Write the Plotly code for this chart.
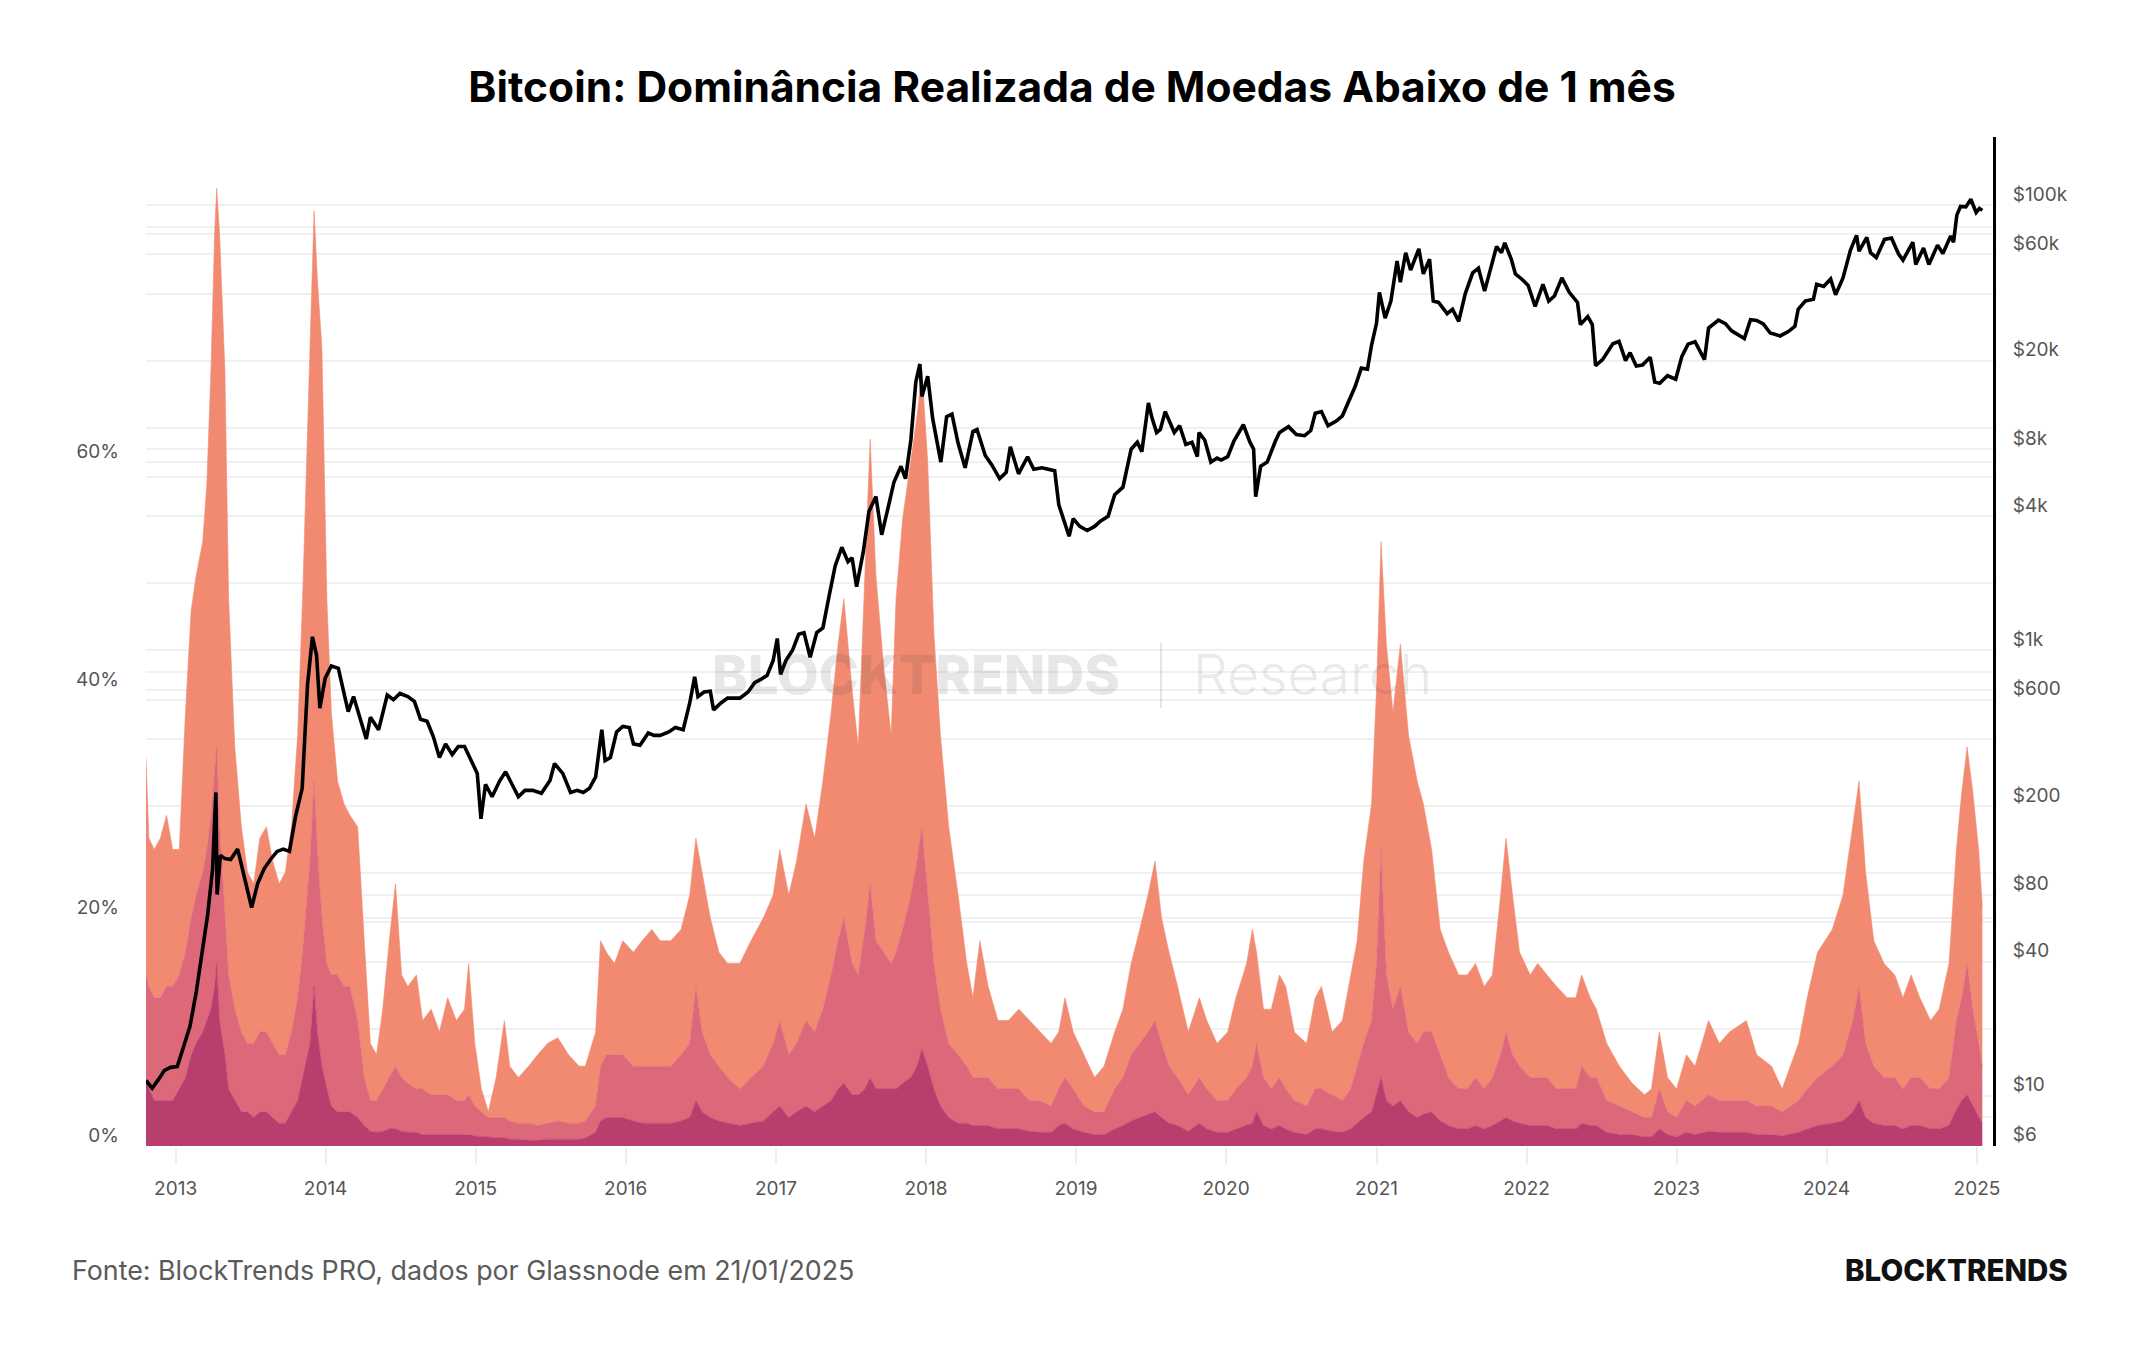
import plotly.graph_objects as go

# ---------------- data ----------------
dom_dates = [
    "2012-10-21","2012-10-28","2012-11-10","2012-11-25","2012-12-10","2012-12-25",
    "2013-01-10","2013-01-25","2013-02-08","2013-02-20","2013-03-08","2013-03-18","2013-03-28",
    "2013-04-06","2013-04-11","2013-04-18","2013-05-01","2013-05-10","2013-05-25","2013-06-10",
    "2013-06-25","2013-07-10","2013-07-25","2013-08-10","2013-08-25","2013-09-10","2013-09-25",
    "2013-10-10","2013-10-25","2013-11-06","2013-11-24","2013-12-04","2013-12-12","2013-12-23",
    "2014-01-04","2014-01-15","2014-01-30","2014-02-15","2014-03-01","2014-03-20","2014-04-05",
    "2014-04-20","2014-05-05","2014-05-20","2014-06-05","2014-06-20","2014-07-05","2014-07-20",
    "2014-08-10","2014-08-25","2014-09-15","2014-10-05","2014-10-25","2014-11-15","2014-12-05",
    "2014-12-15","2014-12-30","2015-01-15","2015-02-01","2015-02-20","2015-03-12","2015-03-25",
    "2015-04-15","2015-05-10","2015-06-01","2015-06-25","2015-07-20","2015-08-15","2015-09-10",
    "2015-09-25","2015-10-20","2015-11-01","2015-11-15","2015-12-05","2015-12-25","2016-01-20",
    "2016-02-10","2016-03-05","2016-03-25","2016-04-20","2016-05-15","2016-06-05","2016-06-20",
    "2016-07-05","2016-07-25","2016-08-15","2016-09-05","2016-10-05","2016-11-01","2016-12-01",
    "2016-12-25","2017-01-10","2017-02-01","2017-02-20","2017-03-15","2017-04-05","2017-04-25",
    "2017-05-15","2017-06-01","2017-06-15","2017-07-05","2017-07-20","2017-08-05","2017-08-18",
    "2017-09-01","2017-09-20","2017-10-08","2017-10-20","2017-11-05","2017-11-25","2017-12-10",
    "2017-12-22","2018-01-05","2018-01-20","2018-02-05","2018-02-25","2018-03-20","2018-04-10",
    "2018-04-25","2018-05-12","2018-06-01","2018-06-25","2018-07-20","2018-08-15","2018-09-10",
    "2018-10-05","2018-11-01","2018-11-20","2018-12-05","2018-12-25","2019-01-20","2019-02-15",
    "2019-03-10","2019-04-05","2019-04-25","2019-05-15","2019-06-05","2019-06-25","2019-07-12",
    "2019-07-28","2019-08-15","2019-09-05","2019-10-01","2019-10-28","2019-11-15","2019-12-10",
    "2020-01-05","2020-01-25","2020-02-20","2020-03-05","2020-03-15","2020-04-01","2020-04-20",
    "2020-05-10","2020-05-25","2020-06-15","2020-07-15","2020-08-05","2020-08-20","2020-09-15",
    "2020-10-10","2020-10-30","2020-11-15","2020-12-01","2020-12-20","2021-01-01","2021-01-12",
    "2021-01-25","2021-02-10","2021-02-28","2021-03-20","2021-04-10","2021-04-25","2021-05-15",
    "2021-06-05","2021-06-25","2021-07-20","2021-08-10","2021-08-30","2021-09-20","2021-10-10",
    "2021-10-30","2021-11-12","2021-11-28","2021-12-15","2022-01-10","2022-01-28","2022-02-20",
    "2022-03-15","2022-04-10","2022-05-01","2022-05-15","2022-06-05","2022-06-20","2022-07-15",
    "2022-08-15","2022-09-15","2022-10-15","2022-11-01","2022-11-20","2022-12-10","2023-01-01",
    "2023-01-25","2023-02-15","2023-03-20","2023-04-15","2023-05-10","2023-06-20","2023-07-15",
    "2023-08-20","2023-09-15","2023-10-25","2023-11-15","2023-12-10","2024-01-15","2024-02-10",
    "2024-03-05","2024-03-20","2024-04-05","2024-04-25","2024-05-20","2024-06-15","2024-07-05",
    "2024-07-25","2024-08-15","2024-09-10","2024-10-01","2024-10-25","2024-11-12","2024-11-25",
    "2024-12-08","2024-12-22","2025-01-05","2025-01-14",
]

# cumulative dominance, coins < 1 month (top of the stack), %
dom_under_1m = [
    34,27,26,27,29,26,
    26,38,47,50,53,58,68,
    80,84,80,68,48,35,28,
    24,23,27,28,25,23,24,
    28,36,48,70,82,76,70,
    48,38,32,30,29,28,18,
    9,8,12,18,23,15,14,
    15,11,12,10,13,11,12,
    16,9,5,3,6,11,7,
    6,7,8,9,9.5,8,7,
    7,10,18,17,16,18,17,
    18,19,18,18,19,22,27,
    24,20,17,16,16,18,20,
    22,26,22,25,30,27,32,
    38,44,48,40,35,50,62,
    50,42,36,48,55,60,64,
    68,60,45,36,28,22,16,
    13,18,14,11,11,12,11,
    10,9,10,13,10,8,6,
    7,10,12,16,19,22,25,
    20,17,14,10,13,11,9,
    10,13,16,19,17,12,12,
    15,14,10,9,13,14,10,
    11,15,18,25,30,40,53,
    44,38,44,36,32,30,26,
    19,17,15,15,16,14,15,
    22,27,22,17,15,16,15,
    14,13,13,15,13,12,9,
    7,5.5,4.5,5,10,6,5,
    8,7,11,9,10,11,8,
    7,5,9,13,17,19,22,
    28,32,24,18,16,15,13,
    15,13,11,12,16,26,31,
    35,31,26,21,
]

# cumulative dominance, coins < 1 week (top of middle band), %
dom_under_1w = [
    15,14,13,13,14,14,
    15,17,20,22,24,26,29,
    33,35,28,20,15,12,10,
    9,9,10,10,9,8,8,
    10,13,17,25,32,26,20,
    16,15,15,14,14,11,6,
    4,4,5,6,7,6,5.5,
    5,5,4.5,4.5,4.5,4,4,
    4.5,3.5,3,2.5,2.5,2.5,2.2,
    2,2,1.8,2,2.2,2,2,
    2.2,3.5,7,8,8,8,7,
    7,7,7,7,8,9,14,
    10,8,7,6,5,6,7,
    9,11,8,9,11,10,12,
    15,18,20,16,15,19,23,
    18,17,16,17,19,22,25,
    28,22,16,12,9,8,7,
    6,6,6,5,5,5,4,
    4,3.5,5,6,5,3.5,3,
    3,5,6,8,9,10,11,
    9,7,6,4.5,6,5,4,
    4,5,6,7,9,6,5,
    6,5,4,3.5,5,5,4.5,
    4,5,7,9,11,16,26,
    15,12,14,10,9,10,10,
    8,6,5,5,6,5,6,
    8,10,8,7,6,6,6,
    5,5,5,7,6,6,4,
    3.5,3,2.5,2.5,5,3,2.5,
    4,3.5,4.5,4,4,4,3.5,
    3.5,3,4,5,6,7,8,
    11,14,9,7,6,6,5,
    6,6,5,5,6,11,13,
    16,12,9,7,
]

# dominance, coins < 24 hours (bottom band), %
dom_under_1d = [
    6,5,4,4,4,4,
    5,6,8,9,10,11,12,
    14,16,11,8,5,4,3,
    3,2.5,3,3,2.5,2,2,
    3,4,6,9,14,10,7,
    5,3.5,3,3,3,2.5,1.8,
    1.3,1.2,1.3,1.5,1.5,1.3,1.2,
    1.2,1,1,1,1,1,1,
    1,0.9,0.8,0.8,0.7,0.7,0.6,
    0.6,0.5,0.5,0.6,0.6,0.6,0.6,
    0.7,1.2,2.2,2.5,2.5,2.5,2.2,
    2,2,2,2,2.2,2.5,4,
    3,2.5,2.2,2,1.8,2,2.2,
    3,3.5,2.5,3,3.5,3,3.5,
    4,5,5.5,4.5,4.5,5,6,
    5,5,5,5,5.5,6,7,
    8.5,7,5,3.5,2.5,2,2,
    1.8,1.8,1.8,1.5,1.5,1.5,1.3,
    1.2,1.2,1.8,2,1.5,1.2,1,
    1,1.5,1.8,2.2,2.5,2.8,3,
    2.5,2,1.8,1.3,2,1.5,1.2,
    1.2,1.5,1.8,2,3,1.8,1.5,
    1.8,1.5,1.2,1,1.5,1.5,1.3,
    1.2,1.5,2,2.5,3,4.5,6,
    4,3.5,4,3,2.5,2.8,3,
    2.2,1.8,1.5,1.5,1.8,1.5,1.8,
    2.2,2.5,2.2,2,1.8,1.8,1.8,
    1.5,1.5,1.5,2,1.8,1.8,1.2,
    1,1,0.8,0.8,1.5,1,0.8,
    1.2,1,1.3,1.2,1.2,1.2,1,
    1,0.9,1.2,1.5,1.8,2,2.2,
    3,4,2.5,2,1.8,1.8,1.5,
    1.8,1.8,1.5,1.5,1.8,3.2,4,
    4.5,3.5,2.5,2,
]

price_dates = [
    "2012-10-21","2012-11-05","2012-11-20","2012-12-05","2012-12-20","2013-01-05","2013-01-20",
    "2013-02-05","2013-02-20","2013-03-05","2013-03-20","2013-04-01","2013-04-09","2013-04-12",
    "2013-04-20","2013-05-01","2013-05-15","2013-06-01","2013-06-15","2013-07-05","2013-07-20",
    "2013-08-05","2013-08-20","2013-09-05","2013-09-20","2013-10-05","2013-10-20","2013-11-05",
    "2013-11-18","2013-11-30","2013-12-10","2013-12-18","2013-12-31","2014-01-15","2014-02-01",
    "2014-02-15","2014-02-25","2014-03-10","2014-03-25","2014-04-10","2014-04-20","2014-05-10",
    "2014-05-31","2014-06-15","2014-07-01","2014-07-20","2014-08-05","2014-08-20","2014-09-05",
    "2014-09-20","2014-10-05","2014-10-20","2014-11-05","2014-11-20","2014-12-05","2014-12-20",
    "2015-01-05","2015-01-14","2015-01-25","2015-02-10","2015-03-01","2015-03-15","2015-04-01",
    "2015-04-15","2015-05-01","2015-05-20","2015-06-10","2015-07-01","2015-07-12","2015-08-01",
    "2015-08-20","2015-09-05","2015-09-20","2015-10-05","2015-10-20","2015-11-04","2015-11-12",
    "2015-11-25","2015-12-10","2015-12-25","2016-01-10","2016-01-20","2016-02-05","2016-02-25",
    "2016-03-10","2016-03-25","2016-04-15","2016-05-01","2016-05-20","2016-06-05","2016-06-17",
    "2016-06-25","2016-07-10","2016-07-25","2016-08-02","2016-08-20","2016-09-05","2016-09-20",
    "2016-10-05","2016-10-25","2016-11-10","2016-11-25","2016-12-10","2016-12-25","2017-01-04",
    "2017-01-12","2017-01-25","2017-02-10","2017-02-25","2017-03-10","2017-03-25","2017-04-10",
    "2017-04-25","2017-05-10","2017-05-25","2017-06-10","2017-06-25","2017-07-05","2017-07-16",
    "2017-08-01","2017-08-15","2017-09-01","2017-09-15","2017-10-01","2017-10-15","2017-11-01",
    "2017-11-12","2017-11-25","2017-12-07","2017-12-17","2017-12-22","2018-01-05","2018-01-17",
    "2018-02-06","2018-02-20","2018-03-05","2018-03-20","2018-04-06","2018-04-25","2018-05-05",
    "2018-05-25","2018-06-10","2018-06-29","2018-07-15","2018-07-25","2018-08-14","2018-09-05",
    "2018-09-20","2018-10-10","2018-10-25","2018-11-10","2018-11-20","2018-12-15","2018-12-25",
    "2019-01-10","2019-01-28","2019-02-15","2019-03-01","2019-03-20","2019-04-05","2019-04-25",
    "2019-05-15","2019-05-30","2019-06-10","2019-06-26","2019-07-05","2019-07-16","2019-07-25",
    "2019-08-06","2019-08-28","2019-09-10","2019-09-25","2019-10-10","2019-10-23","2019-10-27",
    "2019-11-10","2019-11-25","2019-12-10","2019-12-20","2020-01-05","2020-01-20","2020-02-12",
    "2020-02-28","2020-03-08","2020-03-13","2020-03-25","2020-04-10","2020-04-30","2020-05-10",
    "2020-06-01","2020-06-20","2020-07-10","2020-07-25","2020-08-05","2020-08-20","2020-09-05",
    "2020-09-25","2020-10-10","2020-10-25","2020-11-10","2020-11-25","2020-12-10","2020-12-20",
    "2021-01-01","2021-01-08","2021-01-22","2021-02-05","2021-02-20","2021-02-28","2021-03-13",
    "2021-03-25","2021-04-14","2021-04-25","2021-05-10","2021-05-19","2021-06-01","2021-06-22",
    "2021-07-05","2021-07-20","2021-08-05","2021-08-23","2021-09-06","2021-09-21","2021-10-05",
    "2021-10-20","2021-11-01","2021-11-09","2021-11-25","2021-12-05","2021-12-20","2022-01-05",
    "2022-01-22","2022-02-10","2022-02-24","2022-03-10","2022-03-28","2022-04-15","2022-05-05",
    "2022-05-12","2022-05-30","2022-06-10","2022-06-18","2022-07-05","2022-07-30","2022-08-14",
    "2022-08-30","2022-09-10","2022-09-25","2022-10-10","2022-10-29","2022-11-09","2022-11-21",
    "2022-12-10","2022-12-30","2023-01-14","2023-01-29","2023-02-15","2023-03-10","2023-03-20",
    "2023-04-13","2023-04-30","2023-05-15","2023-06-15","2023-06-30","2023-07-15","2023-07-31",
    "2023-08-17","2023-09-10","2023-09-30","2023-10-16","2023-10-24","2023-11-10","2023-11-30",
    "2023-12-08","2023-12-25","2024-01-11","2024-01-23","2024-02-10","2024-02-28","2024-03-14",
    "2024-03-20","2024-04-08","2024-04-17","2024-05-01","2024-05-21","2024-06-07","2024-06-24",
    "2024-07-05","2024-07-29","2024-08-05","2024-08-24","2024-09-06","2024-09-27","2024-10-10",
    "2024-10-29","2024-11-05","2024-11-13","2024-11-22","2024-12-05","2024-12-17","2024-12-30",
    "2025-01-07","2025-01-14",
]
btc_price = [
    11.7,10.8,11.8,13.0,13.4,13.5,16.5,
    20.5,29,42,65,104,230,80,
    120,116,115,128,100,70,90,
    105,115,125,128,125,180,240,
    700,1150,950,550,750,850,830,
    650,530,620,500,400,500,440,
    630,600,640,620,590,490,480,
    410,330,380,340,370,370,320,
    280,175,250,220,260,285,245,
    220,235,235,228,260,310,280,
    230,235,230,240,270,440,320,
    330,430,455,450,380,375,425,
    415,415,430,450,440,580,760,
    620,650,655,540,580,610,610,
    610,650,715,740,770,900,1130,
    780,900,1000,1180,1200,930,1200,
    1260,1750,2400,2900,2500,2600,1930,
    2750,4200,4900,3300,4400,5700,6700,
    5900,8800,16000,19300,13800,17000,11000,
    7000,11200,11500,8500,6600,9600,9800,
    7500,6800,5900,6300,8200,6200,7400,
    6500,6600,6500,6400,4500,3250,3900,
    3600,3450,3600,3800,4000,5000,5400,
    8000,8600,7800,12900,11000,9500,9800,
    11800,9500,10200,8400,8600,7400,9500,
    8800,7000,7300,7150,7400,8700,10300,
    8600,8000,4900,6700,7000,8700,9500,
    10100,9300,9200,9700,11600,11800,10200,
    10700,11300,13000,15300,18500,18300,23500,
    29400,40500,31000,37000,56000,45000,61000,
    51000,63500,49000,57000,37000,36500,32500,
    34000,30000,40000,49500,52000,41000,51000,
    65000,61000,67500,57000,49000,46500,43500,
    35000,44000,37000,39000,47000,40500,36500,
    29000,31500,29000,19000,20200,23800,24400,
    20000,21700,18900,19100,20700,16000,15800,
    17100,16500,20900,23700,24300,20200,28000,
    30400,29300,27200,25100,30500,30300,29200,
    26600,25800,27000,28500,34000,37000,37700,
    44000,43000,46500,39500,47000,62500,73000,
    62000,71500,61000,58000,70000,71000,60300,
    56500,68000,54000,64000,54000,66000,60500,
    72500,68000,90000,98500,98000,106000,92500,
    96500,94500,
]

year_ticks = ["2013","2014","2015","2016","2017","2018","2019","2020","2021","2022","2023","2024","2025"]
pct_tickvals = [0, 20, 40, 60, 80]
pct_ticktext = ["0%", "20%", "40%", "60%", ""]
price_tickvals = [6, 8, 10, 20, 40, 60, 80, 100, 200, 400, 600, 800, 1000, 2000, 4000,
                  6000, 8000, 10000, 20000, 40000, 60000, 80000, 100000]
price_ticktext = ["$6", "", "$10", "", "$40", "", "$80", "", "$200", "", "$600", "", "$1k", "", "$4k",
                  "", "$8k", "", "$20k", "", "$60k", "", "$100k"]

TITLE = "Bitcoin: Dominância Realizada de Moedas Abaixo de 1 mês"
SOURCE = "Fonte: BlockTrends PRO, dados por Glassnode em 21/01/2025"

# ---------------- figure ----------------
C_LOW = "#B83E6E"
C_MID = "#DC687A"
C_TOP = "#F28A72"

fig = go.Figure()
fig.add_trace(go.Scatter(x=dom_dates, y=dom_under_1d, mode="lines", fill="tozeroy",
                         line=dict(color=C_LOW, width=0.6), fillcolor=C_LOW,
                         name="< 24h", hoverinfo="skip"))
fig.add_trace(go.Scatter(x=dom_dates, y=dom_under_1w, mode="lines", fill="tonexty",
                         line=dict(color=C_MID, width=0.6), fillcolor=C_MID,
                         name="1d–1w", hoverinfo="skip"))
fig.add_trace(go.Scatter(x=dom_dates, y=dom_under_1m, mode="lines", fill="tonexty",
                         line=dict(color=C_TOP, width=0.6), fillcolor=C_TOP,
                         name="1w–1m", hoverinfo="skip"))
fig.add_trace(go.Scatter(x=price_dates, y=btc_price, mode="lines", yaxis="y2",
                         line=dict(color="#000000", width=3.6), name="Preço",
                         hoverinfo="skip"))

TICKFONT = dict(family="Inter", size=19, color="#555555")

W, H = 2144, 1350
L, R, T, B = 146, 1993, 137, 1146

def px(xp):
    return (xp - L) / (R - L)

def py(yp):
    return (B - yp) / (B - T)

fig.update_layout(
    width=W, height=H,
    paper_bgcolor="white", plot_bgcolor="white",
    margin=dict(l=L, r=W - R, t=T, b=H - B, pad=0),
    showlegend=False,
    font=dict(family="Inter", color="#555555"),
    title=dict(text=TITLE, x=0.5, xanchor="center", xref="container",
               y=1 - 87 / H, yanchor="middle", yref="container",
               font=dict(family="Inter", size=42.5, color="#000000", weight=700)),
    xaxis=dict(type="date", range=["2012-10-21", "2025-02-09"],
               tickvals=[y + "-01-01" for y in year_ticks], ticktext=year_ticks,
               ticks="outside", ticklen=17, tickwidth=2, tickcolor="#eeeeee",
               showgrid=False, zeroline=False, showline=False,
               tickfont=TICKFONT, ticklabelstandoff=8),
    yaxis=dict(range=[0, 88.5], tickvals=pct_tickvals, ticktext=pct_ticktext,
               showgrid=True, gridcolor="#f0f0f0", gridwidth=1.5,
               zeroline=False, showline=False, ticks="",
               tickfont=TICKFONT, ticklabelshift=-11, ticklabelstandoff=26),
    yaxis2=dict(type="log", range=[0.774, 5.305], overlaying="y", side="right",
                tickvals=price_tickvals, ticktext=price_ticktext,
                showgrid=True, gridcolor="#f0f0f0", gridwidth=1.5,
                zeroline=False, showline=True, linecolor="#000000", linewidth=3,
                ticks="", tickfont=TICKFONT, ticklabelshift=-11, ticklabelstandoff=13),
)

# watermark
fig.add_annotation(xref="paper", yref="paper", x=px(916), y=py(674), text="BLOCKTRENDS",
                   showarrow=False, xanchor="center", yanchor="middle",
                   font=dict(family="Inter", size=54, color="rgba(60,60,60,0.12)", weight=800))
fig.add_annotation(xref="paper", yref="paper", x=px(1312), y=py(674), text="Research",
                   showarrow=False, xanchor="center", yanchor="middle",
                   font=dict(family="Inter", size=55, color="rgba(60,60,60,0.11)", weight=300))
fig.add_shape(type="line", xref="paper", yref="paper", x0=px(1161), x1=px(1161),
              y0=py(643), y1=py(708), line=dict(color="rgba(60,60,60,0.13)", width=2))

# footer
fig.add_annotation(xref="paper", yref="paper", x=px(70), y=py(1270), text=SOURCE,
                   showarrow=False, xanchor="left", yanchor="middle",
                   font=dict(family="Inter", size=26.8, color="#5a5a5a"))
fig.add_annotation(xref="paper", yref="paper", x=px(2070), y=py(1270), text="BLOCKTRENDS",
                   showarrow=False, xanchor="right", yanchor="middle",
                   font=dict(family="Inter", size=29.5, color="#111111", weight=800))

fig.write_html("out.html")
